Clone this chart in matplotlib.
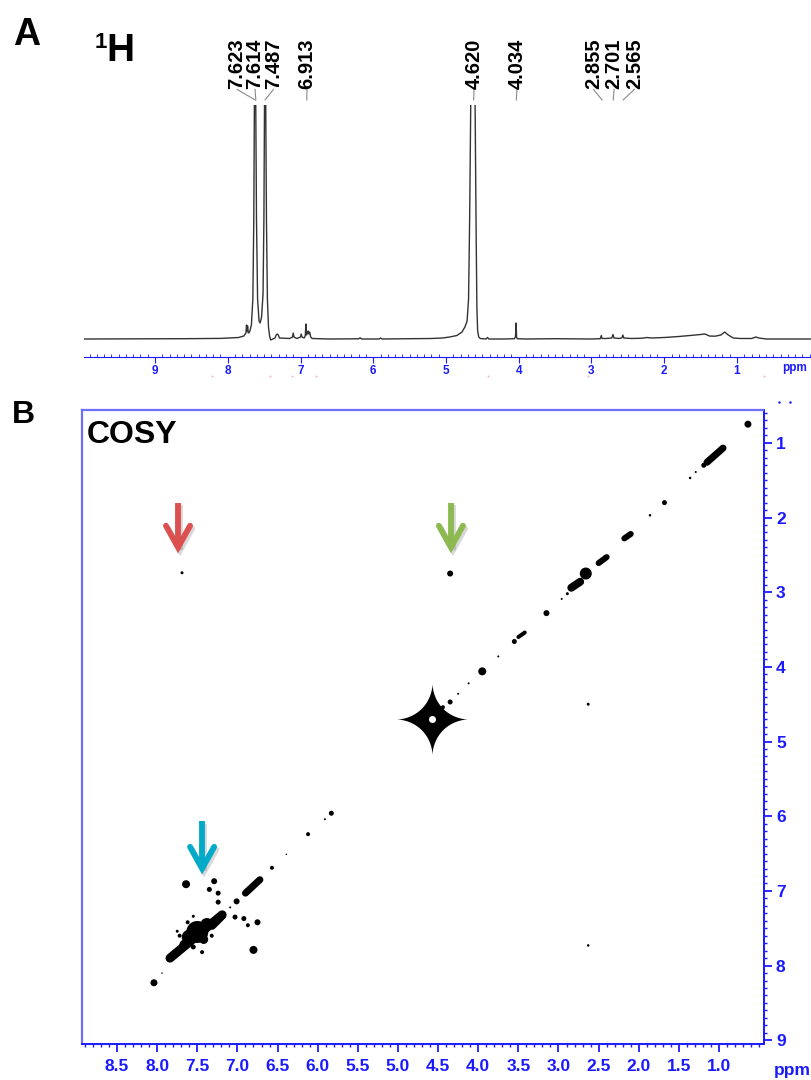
import matplotlib
matplotlib.use("Agg")
import numpy as np
import matplotlib.pyplot as plt
import matplotlib.patheffects as pe
from matplotlib.lines import Line2D
from matplotlib.path import Path
from matplotlib.ticker import MultipleLocator

plt.rcParams["font.family"] = ["Liberation Sans", "DejaVu Sans"]

BLUE = "#1a1aff"
BLUE_LIGHT = "#6e6eff"

# ---- 1H trace, vertices (ppm, height above baseline in px)
h1_ppm = [9.98, 8.6, 8.1, 7.85, 7.78, 7.75, 7.742, 7.735, 7.727, 7.718, 7.70,
          7.675, 7.655, 7.642, 7.634, 7.625, 7.615, 7.605, 7.59, 7.57, 7.555,
          7.535, 7.515, 7.503, 7.495, 7.487, 7.478, 7.468, 7.455, 7.44, 7.425,
          7.41, 7.38, 7.35, 7.335, 7.32, 7.305, 7.29, 7.15, 7.11, 7.10, 7.09,
          7.05, 7.0, 6.99, 6.98, 6.95, 6.935, 6.925, 6.918, 6.905, 6.895, 6.885,
          6.875, 6.86, 6.84, 6.6, 6.2, 6.18, 6.16, 5.92, 5.9, 5.88, 5.5, 5.2,
          5.05, 4.95, 4.85, 4.78, 4.74, 4.71, 4.69, 4.675, 4.66, 4.655, 4.605,
          4.60, 4.585, 4.575, 4.565, 4.55, 4.53, 4.45, 4.43, 4.41, 4.2, 4.06,
          4.045, 4.036, 4.03, 4.02, 3.9, 3.5, 3.0, 2.88, 2.865, 2.855, 2.8, 2.72,
          2.705, 2.69, 2.62, 2.58, 2.57, 2.555, 2.45, 2.3, 2.24, 2.18, 2.0, 1.8,
          1.6, 1.5, 1.44, 1.38, 1.3, 1.22, 1.17, 1.12, 1.05, 0.95, 0.8, 0.74,
          0.70, 0.6, -0.03]
h1_int = [0, 0.3, 0.6, 1.5, 3, 6, 14, 8, 13, 6, 7,
          14, 40, 120, 234, 400, 234, 120, 40, 18, 16,
          22, 45, 120, 234, 400, 234, 120, 40, 12, 3,
          -1, 0, 1, 4, 5, 4, 1, 0.5, 2, 6, 2,
          0.5, 2, 5, 2, 1, 3, 15, 4, 6, 8, 5,
          7, 2, 0.5, 0, 0.2, 1.2, 0, 0, 1, 0, 0.3, 0.5,
          1, 2, 3.5, 7, 12, 18, 40, 120, 234, 400, 400,
          234, 100, 30, 8, 2, 0.5, 0, 1.5, 0, 0, 0.3,
          2, 16, 2, 0.3, 0, 0.3, 0, 0.3, 3.5, 0.5, 0.5, 1,
          4.5, 1, 0.5, 1.2, 4, 1, 0.5, 0.8, 1.5, 1, 1.5, 2.5,
          3.8, 4.5, 5, 3, 2.8, 4, 7, 4, 1, 0.5, 0.5, 2,
          1, 0, 0]

peak_labels = ["7.623", "7.614", "7.487", "6.913", "4.620", "4.034", "2.855", "2.701", "2.565"]
peak_ppm = [7.623, 7.614, 7.487, 6.913, 4.620, 4.034, 2.855, 2.701, 2.565]
label_ppm = [7.872, 7.625, 7.372, 6.911, 4.615, 4.024, 2.972, 2.690, 2.410]
integral_ppm = [8.22, 7.42, 7.12, 6.79, 4.42, 3.05, 0.63]

# ---- COSY cross/diagonal peaks (F2 ppm, F1 ppm, relative intensity)
dot_x = [0.64, 1.19, 1.29, 1.36, 1.68, 1.86, 2.66, 2.89, 2.96, 3.15,
         3.55, 3.75, 3.95, 4.12, 4.25, 4.35, 4.44,
         7.69, 4.35, 2.63, 2.63,
         5.83, 5.91, 6.12, 6.39, 6.57, 7.01, 7.09, 7.64, 7.29, 7.35, 7.24, 7.24,
         7.03, 6.92, 6.75, 6.87, 7.55, 7.75, 7.50, 7.60, 7.38, 7.62, 7.72, 7.55,
         7.32, 6.80, 7.44, 8.04, 7.94, 7.66, 7.42]
dot_y = [0.75, 1.30, 1.39, 1.47, 1.80, 1.97, 2.75, 3.02, 3.09, 3.28,
         3.66, 3.86, 4.06, 4.22, 4.36, 4.47, 4.54,
         2.74, 2.75, 4.50, 7.73,
         5.96, 6.04, 6.24, 6.51, 6.69, 7.14, 7.22, 6.91, 6.87, 6.98, 7.03, 7.15,
         7.35, 7.37, 7.42, 7.46, 7.34, 7.54, 7.55, 7.62, 7.45, 7.42, 7.60, 7.75,
         7.60, 7.79, 7.82, 8.23, 8.10, 7.72, 7.65]
dot_int = [7, 5, 2, 2.5, 5, 2.5, 12, 3, 2, 6,
           5, 2, 8, 2, 2, 5, 4,
           3, 6, 3, 2.5,
           5, 2, 4, 1.5, 4, 6, 2, 8, 6, 5, 5, 5,
           5, 5, 6, 4, 3, 3, 22, 15, 13, 4, 4, 5,
           4, 8, 4, 7, 1.5, 10, 9]

# elongated diagonal ridges (start / end in ppm)
ridge_x0 = [1.15, 2.18, 2.50, 2.84, 3.42, 6.90, 7.31, 7.84]
ridge_y0 = [1.26, 2.28, 2.61, 2.94, 3.54, 7.03, 7.48, 7.90]
ridge_x1 = [0.95, 2.10, 2.40, 2.73, 3.50, 6.72, 7.18, 7.19]
ridge_y1 = [1.07, 2.22, 2.53, 2.86, 3.60, 6.85, 7.34, 7.32]
ridge_int = [7, 6, 6, 8, 4, 7, 6, 9]

# solvent (HOD) peak with t1 streaks
star_x, star_y = 4.58, 4.70

# arrows marking cross peaks: (F2 ppm, F1 start, F1 tip)
arrow_x = [7.74, 4.34, 7.44]
arrow_y0 = [1.80, 1.80, 6.07]
arrow_y1 = [2.40, 2.40, 6.70]
arrow_colors = ["#dc5050", "#8cba50", "#00aac8"]

fig = plt.figure(figsize=(8.12, 10.8), dpi=100)

# ------------------------------------------------------------------ panel A
ax1 = fig.add_axes([84 / 812, 1 - 357 / 1080, (812 - 84) / 812, 252 / 1080])
ax1.plot(h1_ppm, h1_int, color="#333333", lw=1.0)
ax1.set_xlim(9.976, -0.031)
ax1.set_ylim(-18, 234)
for s in ["left", "right", "top"]:
    ax1.spines[s].set_visible(False)
ax1.spines["bottom"].set_color(BLUE)
ax1.spines["bottom"].set_linewidth(0.8)
ax1.set_yticks([])
ax1.set_xticks(range(1, 10))
ax1.set_xticklabels([str(i) for i in range(1, 10)], fontweight="bold")
ax1.xaxis.set_minor_locator(MultipleLocator(0.1))
ax1.tick_params(axis="x", which="major", direction="out", length=4, width=0.8,
                color=BLUE, labelcolor=BLUE, labelsize=8.5, pad=2)
ax1.tick_params(axis="x", which="minor", direction="in", length=2.2, width=0.6, color=BLUE)

tr = ax1.get_xaxis_transform()
for lab, p, lx in zip(peak_labels, peak_ppm, label_ppm):
    ax1.text(lx, 1.0635, lab, transform=tr, rotation=90, ha="center", va="bottom",
             fontsize=14.5, fontweight="bold", clip_on=False)
    ax1.plot([lx, p], [1.062, 1.02], transform=tr, color="#8a8a8a", lw=0.8, clip_on=False)
ax1.scatter(integral_ppm, [-0.075] * len(integral_ppm), transform=tr, s=2,
            color="#ffb0b0", clip_on=False, lw=0)
fig.text(795 / 812, 1 - 368 / 1080, "ppm", color=BLUE, fontsize=8.5, fontweight="bold",
         ha="center", va="center")

fig.text(13 / 812, 1 - 45 / 1080, "A", fontsize=27, fontweight="bold", va="baseline")
fig.text(95 / 812, 1 - 48 / 1080, "1", fontsize=16, fontweight="bold", va="baseline")
fig.text(106 / 812, 1 - 61 / 1080, "H", fontsize=28, fontweight="bold", va="baseline")

# ------------------------------------------------------------------ panel B
ax2 = fig.add_axes([81.7 / 812, 1 - 1044 / 1080, (763.5 - 81.7) / 812, (1044 - 410) / 1080])
ax2.set_xlim(8.94, 0.446)
ax2.set_ylim(9.05, 0.56)

sizes = [(d * 0.72) ** 2 for d in dot_int]
ax2.scatter(dot_x, dot_y, s=sizes, color="black", lw=0, zorder=3)
for x0, y0, x1, y1, w in zip(ridge_x0, ridge_y0, ridge_x1, ridge_y1, ridge_int):
    ax2.plot([x0, x1], [y0, y1], color="black", lw=w * 0.72, solid_capstyle="round", zorder=3)

# four-armed star marker for the water peak
t = np.linspace(0, 2 * np.pi, 240)
sx = np.sign(np.cos(t)) * np.abs(np.cos(t)) ** 3.5
sy = np.sign(np.sin(t)) * np.abs(np.sin(t)) ** 3.5
star = Path(np.column_stack([sx, sy]), closed=True)
ax2.scatter([star_x], [star_y], marker=star, s=(72 * 0.72) ** 2, color="black", lw=0, zorder=3)
ax2.scatter([star_x], [star_y], s=(7 * 0.72) ** 2, color="white", lw=0, zorder=4)

shadow = [pe.SimpleLineShadow(offset=(1.5, -2), alpha=0.3, shadow_color="gray"), pe.Normal()]
for x, y0, y1, c in zip(arrow_x, arrow_y0, arrow_y1, arrow_colors):
    ax2.plot([x, x], [y0, y1], color=c, lw=4.2, solid_capstyle="butt", zorder=5,
             path_effects=shadow)
    ax2.plot([x + 0.15, x, x - 0.15], [y1 - 0.29, y1, y1 - 0.29], color=c, lw=4.2,
             solid_capstyle="round", solid_joinstyle="miter", zorder=5, path_effects=shadow)

for s in ["left", "top"]:
    ax2.spines[s].set_color(BLUE_LIGHT)
    ax2.spines[s].set_linewidth(1.6)
for s in ["right", "bottom"]:
    ax2.spines[s].set_color(BLUE)
    ax2.spines[s].set_linewidth(1.4)

x_ticks = [8.5, 8.0, 7.5, 7.0, 6.5, 6.0, 5.5, 5.0, 4.5, 4.0, 3.5, 3.0, 2.5, 2.0, 1.5, 1.0]
y_ticks = [1, 2, 3, 4, 5, 6, 7, 8, 9]
ax2.set_xticks(x_ticks)
ax2.set_xticklabels([f"{v:.1f}" for v in x_ticks], fontweight="bold")
ax2.yaxis.tick_right()
ax2.set_yticks(y_ticks)
ax2.set_yticklabels([str(v) for v in y_ticks], fontweight="bold")
ax2.xaxis.set_minor_locator(MultipleLocator(0.1))
ax2.yaxis.set_minor_locator(MultipleLocator(0.1))
ax2.tick_params(which="major", direction="out", length=6, width=1.3, color=BLUE,
                labelcolor=BLUE, labelsize=12.5)
ax2.tick_params(axis="x", which="major", pad=5)
ax2.tick_params(axis="y", which="major", pad=3)
ax2.tick_params(which="minor", direction="out", length=2.5, width=1.0, color=BLUE)

fig.text(792 / 812, 1 - 1070 / 1080, "ppm", color=BLUE, fontsize=12.5, fontweight="bold",
         ha="center", va="center")
fig.add_artist(Line2D([779 / 812, 790 / 812], [1 - 402 / 1080] * 2, ls="none", marker="o",
                      ms=1.8, color=BLUE, mew=0, transform=fig.transFigure))

fig.text(12 / 812, 1 - 423 / 1080, "B", fontsize=23, fontweight="bold", va="baseline")
fig.text(87 / 812, 1 - 443 / 1080, "COSY", fontsize=23, fontweight="bold", va="baseline")

fig.savefig("out.png", dpi=100)
